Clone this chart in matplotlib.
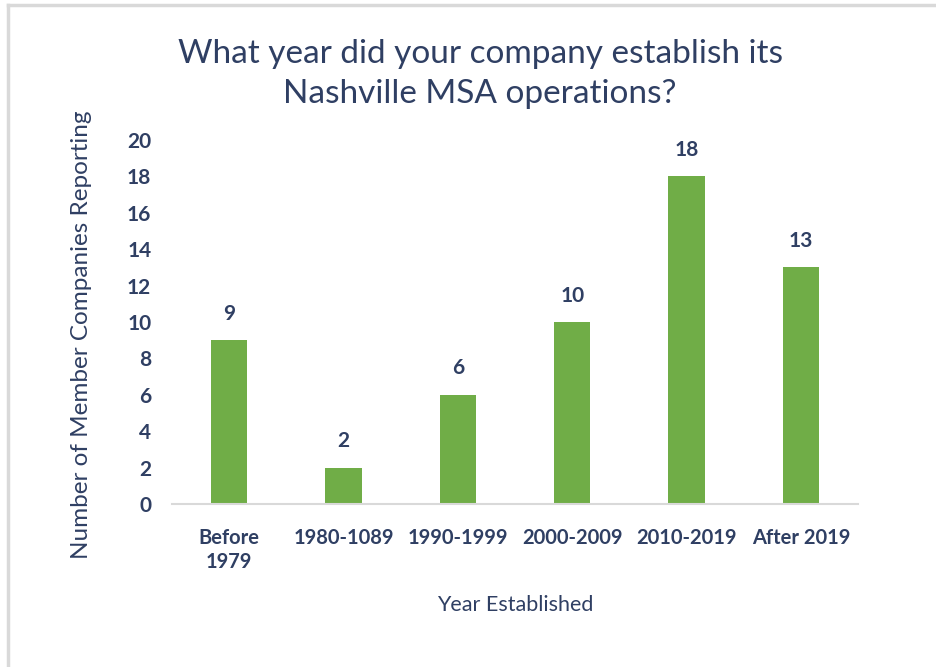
import matplotlib.pyplot as plt
from matplotlib.lines import Line2D
import numpy as np

categories = ['Before\n1979', '1980-1089', '1990-1999', '2000-2009', '2010-2019', 'After 2019']
counts = [9, 2, 6, 10, 18, 13]
yticks = [0, 2, 4, 6, 8, 10, 12, 14, 16, 18, 20]

NAVY = '#2F3F63'
GREEN = '#70AD47'

plt.rcParams['font.family'] = ['Lato', 'DejaVu Sans']

fig = plt.figure(figsize=(9.36, 6.67), dpi=100)
ax = fig.add_axes([0.1838, 0.2444, 0.7329, 0.5456])

x = np.arange(len(categories))
ax.bar(x, counts, width=0.32, color=GREEN)

# value labels above bars
for xi, v in zip(x, counts):
    ax.text(xi, v + 0.9, str(v), ha='center', va='bottom',
            fontsize=15, fontweight='bold', color=NAVY)

ax.set_xlim(-0.5, len(categories) - 0.5)
ax.set_ylim(0, 20)
ax.set_yticks(yticks)
ax.set_xticks(x)
ax.set_xticklabels(categories, fontsize=14.5, fontweight='bold', color=NAVY,
                   linespacing=1.3)
ax.set_yticklabels([str(t) for t in yticks], fontsize=15, fontweight='bold', color=NAVY)
ax.tick_params(axis='both', length=0)
ax.tick_params(axis='x', pad=17)
ax.tick_params(axis='y', pad=15)

for s in ['top', 'right', 'left']:
    ax.spines[s].set_visible(False)
ax.spines['bottom'].set_color('#D9D9D9')
ax.spines['bottom'].set_linewidth(1.5)

ax.set_xlabel('Year Established', fontsize=15.5, color=NAVY, labelpad=16)
ax.set_ylabel('Number of Member Companies Reporting', fontsize=17.5, color=NAVY)
ax.yaxis.set_label_coords(-0.117, 0.464)

fig.text(0.513, 0.889, 'What year did your company establish its\nNashville MSA operations?',
         ha='center', va='center', fontsize=24, color=NAVY, linespacing=1.45)

# light gray frame (top and left edges)
fig.add_artist(Line2D([0.0085, 1.0], [0.9925, 0.9925], transform=fig.transFigure,
                      color='#D9D9D9', linewidth=2.5))
fig.add_artist(Line2D([0.0085, 0.0085], [0.0, 0.9925], transform=fig.transFigure,
                      color='#D9D9D9', linewidth=2.5))

fig.savefig('out.png', dpi=100)
